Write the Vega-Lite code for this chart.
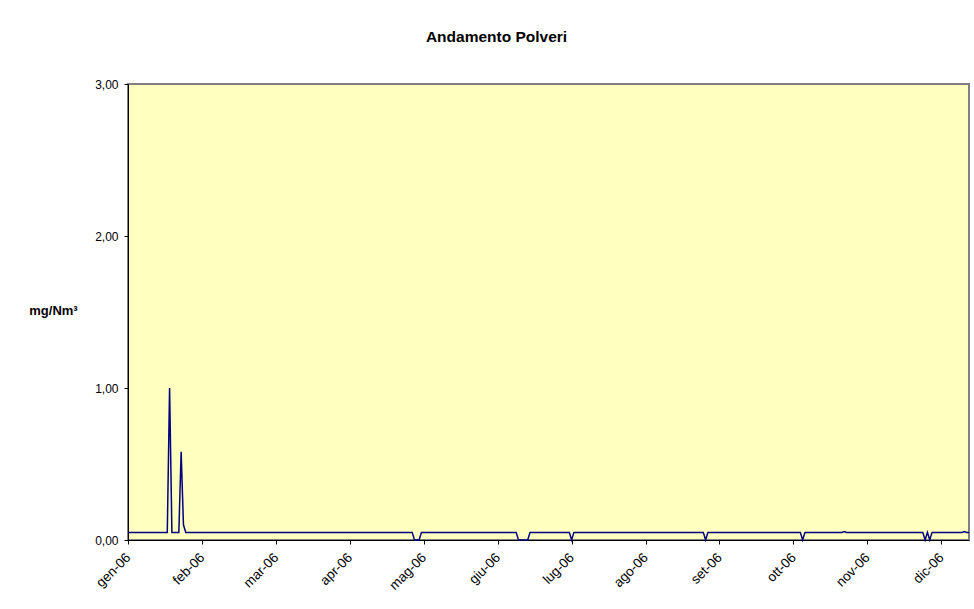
{
"$schema": "https://vega.github.io/schema/vega-lite/v6.json",
"width": 841,
"height": 456,
"autosize": {"type": "none"},
"padding": {"left": 128, "top": 84, "right": 5, "bottom": 69},
"background": "white",
"title": {"text": "Andamento Polveri", "font": "Liberation Sans", "fontSize": 15.5, "fontWeight": "bold", "color": "black", "anchor": "middle", "dx": -52, "offset": 33},
"data": {"values": [
{"data":"2006-01-01","polveri":0.05},{"data":"2006-01-02","polveri":0.05},{"data":"2006-01-03","polveri":0.05},{"data":"2006-01-04","polveri":0.05},{"data":"2006-01-05","polveri":0.05},{"data":"2006-01-06","polveri":0.05},{"data":"2006-01-07","polveri":0.05},{"data":"2006-01-08","polveri":0.05},{"data":"2006-01-09","polveri":0.05},{"data":"2006-01-10","polveri":0.05},{"data":"2006-01-11","polveri":0.05},{"data":"2006-01-12","polveri":0.05},{"data":"2006-01-13","polveri":0.05},{"data":"2006-01-14","polveri":0.05},{"data":"2006-01-15","polveri":0.05},{"data":"2006-01-16","polveri":0.05},{"data":"2006-01-17","polveri":0.05},{"data":"2006-01-18","polveri":0.05},{"data":"2006-01-19","polveri":1.0},{"data":"2006-01-20","polveri":0.05},{"data":"2006-01-21","polveri":0.05},{"data":"2006-01-22","polveri":0.05},{"data":"2006-01-23","polveri":0.05},{"data":"2006-01-24","polveri":0.58},{"data":"2006-01-25","polveri":0.1},{"data":"2006-01-26","polveri":0.05},{"data":"2006-01-27","polveri":0.05},{"data":"2006-01-28","polveri":0.05},{"data":"2006-01-29","polveri":0.05},{"data":"2006-01-30","polveri":0.05},{"data":"2006-01-31","polveri":0.05},
{"data":"2006-02-01","polveri":0.05},{"data":"2006-02-02","polveri":0.05},{"data":"2006-02-03","polveri":0.05},{"data":"2006-02-04","polveri":0.05},{"data":"2006-02-05","polveri":0.05},{"data":"2006-02-06","polveri":0.05},{"data":"2006-02-07","polveri":0.05},{"data":"2006-02-08","polveri":0.05},{"data":"2006-02-09","polveri":0.05},{"data":"2006-02-10","polveri":0.05},{"data":"2006-02-11","polveri":0.05},{"data":"2006-02-12","polveri":0.05},{"data":"2006-02-13","polveri":0.05},{"data":"2006-02-14","polveri":0.05},{"data":"2006-02-15","polveri":0.05},{"data":"2006-02-16","polveri":0.05},{"data":"2006-02-17","polveri":0.05},{"data":"2006-02-18","polveri":0.05},{"data":"2006-02-19","polveri":0.05},{"data":"2006-02-20","polveri":0.05},{"data":"2006-02-21","polveri":0.05},{"data":"2006-02-22","polveri":0.05},{"data":"2006-02-23","polveri":0.05},{"data":"2006-02-24","polveri":0.05},{"data":"2006-02-25","polveri":0.05},{"data":"2006-02-26","polveri":0.05},{"data":"2006-02-27","polveri":0.05},{"data":"2006-02-28","polveri":0.05},
{"data":"2006-03-01","polveri":0.05},{"data":"2006-03-02","polveri":0.05},{"data":"2006-03-03","polveri":0.05},{"data":"2006-03-04","polveri":0.05},{"data":"2006-03-05","polveri":0.05},{"data":"2006-03-06","polveri":0.05},{"data":"2006-03-07","polveri":0.05},{"data":"2006-03-08","polveri":0.05},{"data":"2006-03-09","polveri":0.05},{"data":"2006-03-10","polveri":0.05},{"data":"2006-03-11","polveri":0.05},{"data":"2006-03-12","polveri":0.05},{"data":"2006-03-13","polveri":0.05},{"data":"2006-03-14","polveri":0.05},{"data":"2006-03-15","polveri":0.05},{"data":"2006-03-16","polveri":0.05},{"data":"2006-03-17","polveri":0.05},{"data":"2006-03-18","polveri":0.05},{"data":"2006-03-19","polveri":0.05},{"data":"2006-03-20","polveri":0.05},{"data":"2006-03-21","polveri":0.05},{"data":"2006-03-22","polveri":0.05},{"data":"2006-03-23","polveri":0.05},{"data":"2006-03-24","polveri":0.05},{"data":"2006-03-25","polveri":0.05},{"data":"2006-03-26","polveri":0.05},{"data":"2006-03-27","polveri":0.05},{"data":"2006-03-28","polveri":0.05},{"data":"2006-03-29","polveri":0.05},{"data":"2006-03-30","polveri":0.05},{"data":"2006-03-31","polveri":0.05},
{"data":"2006-04-01","polveri":0.05},{"data":"2006-04-02","polveri":0.05},{"data":"2006-04-03","polveri":0.05},{"data":"2006-04-04","polveri":0.05},{"data":"2006-04-05","polveri":0.05},{"data":"2006-04-06","polveri":0.05},{"data":"2006-04-07","polveri":0.05},{"data":"2006-04-08","polveri":0.05},{"data":"2006-04-09","polveri":0.05},{"data":"2006-04-10","polveri":0.05},{"data":"2006-04-11","polveri":0.05},{"data":"2006-04-12","polveri":0.05},{"data":"2006-04-13","polveri":0.05},{"data":"2006-04-14","polveri":0.05},{"data":"2006-04-15","polveri":0.05},{"data":"2006-04-16","polveri":0.05},{"data":"2006-04-17","polveri":0.05},{"data":"2006-04-18","polveri":0.05},{"data":"2006-04-19","polveri":0.05},{"data":"2006-04-20","polveri":0.05},{"data":"2006-04-21","polveri":0.05},{"data":"2006-04-22","polveri":0.05},{"data":"2006-04-23","polveri":0.05},{"data":"2006-04-24","polveri":0.05},{"data":"2006-04-25","polveri":0.05},{"data":"2006-04-26","polveri":0.05},{"data":"2006-04-27","polveri":0.05},{"data":"2006-04-28","polveri":0.05},{"data":"2006-04-29","polveri":0.05},{"data":"2006-04-30","polveri":0.05},
{"data":"2006-05-01","polveri":0.05},{"data":"2006-05-02","polveri":0.05},{"data":"2006-05-03","polveri":0.05},{"data":"2006-05-04","polveri":0.05},{"data":"2006-05-05","polveri":0},{"data":"2006-05-06","polveri":0},{"data":"2006-05-07","polveri":0},{"data":"2006-05-08","polveri":0.05},{"data":"2006-05-09","polveri":0.05},{"data":"2006-05-10","polveri":0.05},{"data":"2006-05-11","polveri":0.05},{"data":"2006-05-12","polveri":0.05},{"data":"2006-05-13","polveri":0.05},{"data":"2006-05-14","polveri":0.05},{"data":"2006-05-15","polveri":0.05},{"data":"2006-05-16","polveri":0.05},{"data":"2006-05-17","polveri":0.05},{"data":"2006-05-18","polveri":0.05},{"data":"2006-05-19","polveri":0.05},{"data":"2006-05-20","polveri":0.05},{"data":"2006-05-21","polveri":0.05},{"data":"2006-05-22","polveri":0.05},{"data":"2006-05-23","polveri":0.05},{"data":"2006-05-24","polveri":0.05},{"data":"2006-05-25","polveri":0.05},{"data":"2006-05-26","polveri":0.05},{"data":"2006-05-27","polveri":0.05},{"data":"2006-05-28","polveri":0.05},{"data":"2006-05-29","polveri":0.05},{"data":"2006-05-30","polveri":0.05},{"data":"2006-05-31","polveri":0.05},
{"data":"2006-06-01","polveri":0.05},{"data":"2006-06-02","polveri":0.05},{"data":"2006-06-03","polveri":0.05},{"data":"2006-06-04","polveri":0.05},{"data":"2006-06-05","polveri":0.05},{"data":"2006-06-06","polveri":0.05},{"data":"2006-06-07","polveri":0.05},{"data":"2006-06-08","polveri":0.05},{"data":"2006-06-09","polveri":0.05},{"data":"2006-06-10","polveri":0.05},{"data":"2006-06-11","polveri":0.05},{"data":"2006-06-12","polveri":0.05},{"data":"2006-06-13","polveri":0.05},{"data":"2006-06-14","polveri":0.05},{"data":"2006-06-15","polveri":0.05},{"data":"2006-06-16","polveri":0.05},{"data":"2006-06-17","polveri":0.05},{"data":"2006-06-18","polveri":0.05},{"data":"2006-06-19","polveri":0},{"data":"2006-06-20","polveri":0},{"data":"2006-06-21","polveri":0},{"data":"2006-06-22","polveri":0},{"data":"2006-06-23","polveri":0},{"data":"2006-06-24","polveri":0.05},{"data":"2006-06-25","polveri":0.05},{"data":"2006-06-26","polveri":0.05},{"data":"2006-06-27","polveri":0.05},{"data":"2006-06-28","polveri":0.05},{"data":"2006-06-29","polveri":0.05},{"data":"2006-06-30","polveri":0.05},
{"data":"2006-07-01","polveri":0.05},{"data":"2006-07-02","polveri":0.05},{"data":"2006-07-03","polveri":0.05},{"data":"2006-07-04","polveri":0.05},{"data":"2006-07-05","polveri":0.05},{"data":"2006-07-06","polveri":0.05},{"data":"2006-07-07","polveri":0.05},{"data":"2006-07-08","polveri":0.05},{"data":"2006-07-09","polveri":0.05},{"data":"2006-07-10","polveri":0.05},{"data":"2006-07-11","polveri":0.05},{"data":"2006-07-12","polveri":0},{"data":"2006-07-13","polveri":0.05},{"data":"2006-07-14","polveri":0.05},{"data":"2006-07-15","polveri":0.05},{"data":"2006-07-16","polveri":0.05},{"data":"2006-07-17","polveri":0.05},{"data":"2006-07-18","polveri":0.05},{"data":"2006-07-19","polveri":0.05},{"data":"2006-07-20","polveri":0.05},{"data":"2006-07-21","polveri":0.05},{"data":"2006-07-22","polveri":0.05},{"data":"2006-07-23","polveri":0.05},{"data":"2006-07-24","polveri":0.05},{"data":"2006-07-25","polveri":0.05},{"data":"2006-07-26","polveri":0.05},{"data":"2006-07-27","polveri":0.05},{"data":"2006-07-28","polveri":0.05},{"data":"2006-07-29","polveri":0.05},{"data":"2006-07-30","polveri":0.05},{"data":"2006-07-31","polveri":0.05},
{"data":"2006-08-01","polveri":0.05},{"data":"2006-08-02","polveri":0.05},{"data":"2006-08-03","polveri":0.05},{"data":"2006-08-04","polveri":0.05},{"data":"2006-08-05","polveri":0.05},{"data":"2006-08-06","polveri":0.05},{"data":"2006-08-07","polveri":0.05},{"data":"2006-08-08","polveri":0.05},{"data":"2006-08-09","polveri":0.05},{"data":"2006-08-10","polveri":0.05},{"data":"2006-08-11","polveri":0.05},{"data":"2006-08-12","polveri":0.05},{"data":"2006-08-13","polveri":0.05},{"data":"2006-08-14","polveri":0.05},{"data":"2006-08-15","polveri":0.05},{"data":"2006-08-16","polveri":0.05},{"data":"2006-08-17","polveri":0.05},{"data":"2006-08-18","polveri":0.05},{"data":"2006-08-19","polveri":0.05},{"data":"2006-08-20","polveri":0.05},{"data":"2006-08-21","polveri":0.05},{"data":"2006-08-22","polveri":0.05},{"data":"2006-08-23","polveri":0.05},{"data":"2006-08-24","polveri":0.05},{"data":"2006-08-25","polveri":0.05},{"data":"2006-08-26","polveri":0.05},{"data":"2006-08-27","polveri":0.05},{"data":"2006-08-28","polveri":0.05},{"data":"2006-08-29","polveri":0.05},{"data":"2006-08-30","polveri":0.05},{"data":"2006-08-31","polveri":0.05},
{"data":"2006-09-01","polveri":0.05},{"data":"2006-09-02","polveri":0.05},{"data":"2006-09-03","polveri":0.05},{"data":"2006-09-04","polveri":0.05},{"data":"2006-09-05","polveri":0.05},{"data":"2006-09-06","polveri":0.05},{"data":"2006-09-07","polveri":0.05},{"data":"2006-09-08","polveri":0},{"data":"2006-09-09","polveri":0.05},{"data":"2006-09-10","polveri":0.05},{"data":"2006-09-11","polveri":0.05},{"data":"2006-09-12","polveri":0.05},{"data":"2006-09-13","polveri":0.05},{"data":"2006-09-14","polveri":0.05},{"data":"2006-09-15","polveri":0.05},{"data":"2006-09-16","polveri":0.05},{"data":"2006-09-17","polveri":0.05},{"data":"2006-09-18","polveri":0.05},{"data":"2006-09-19","polveri":0.05},{"data":"2006-09-20","polveri":0.05},{"data":"2006-09-21","polveri":0.05},{"data":"2006-09-22","polveri":0.05},{"data":"2006-09-23","polveri":0.05},{"data":"2006-09-24","polveri":0.05},{"data":"2006-09-25","polveri":0.05},{"data":"2006-09-26","polveri":0.05},{"data":"2006-09-27","polveri":0.05},{"data":"2006-09-28","polveri":0.05},{"data":"2006-09-29","polveri":0.05},{"data":"2006-09-30","polveri":0.05},
{"data":"2006-10-01","polveri":0.05},{"data":"2006-10-02","polveri":0.05},{"data":"2006-10-03","polveri":0.05},{"data":"2006-10-04","polveri":0.05},{"data":"2006-10-05","polveri":0.05},{"data":"2006-10-06","polveri":0.05},{"data":"2006-10-07","polveri":0.05},{"data":"2006-10-08","polveri":0.05},{"data":"2006-10-09","polveri":0.05},{"data":"2006-10-10","polveri":0.05},{"data":"2006-10-11","polveri":0.05},{"data":"2006-10-12","polveri":0.05},{"data":"2006-10-13","polveri":0.05},{"data":"2006-10-14","polveri":0.05},{"data":"2006-10-15","polveri":0.05},{"data":"2006-10-16","polveri":0.05},{"data":"2006-10-17","polveri":0.05},{"data":"2006-10-18","polveri":0.05},{"data":"2006-10-19","polveri":0.05},{"data":"2006-10-20","polveri":0},{"data":"2006-10-21","polveri":0.05},{"data":"2006-10-22","polveri":0.05},{"data":"2006-10-23","polveri":0.05},{"data":"2006-10-24","polveri":0.05},{"data":"2006-10-25","polveri":0.05},{"data":"2006-10-26","polveri":0.05},{"data":"2006-10-27","polveri":0.05},{"data":"2006-10-28","polveri":0.05},{"data":"2006-10-29","polveri":0.05},{"data":"2006-10-30","polveri":0.05},{"data":"2006-10-31","polveri":0.05},
{"data":"2006-11-01","polveri":0.05},{"data":"2006-11-02","polveri":0.05},{"data":"2006-11-03","polveri":0.05},{"data":"2006-11-04","polveri":0.05},{"data":"2006-11-05","polveri":0.05},{"data":"2006-11-06","polveri":0.05},{"data":"2006-11-07","polveri":0.055},{"data":"2006-11-08","polveri":0.05},{"data":"2006-11-09","polveri":0.05},{"data":"2006-11-10","polveri":0.05},{"data":"2006-11-11","polveri":0.05},{"data":"2006-11-12","polveri":0.05},{"data":"2006-11-13","polveri":0.05},{"data":"2006-11-14","polveri":0.05},{"data":"2006-11-15","polveri":0.05},{"data":"2006-11-16","polveri":0.05},{"data":"2006-11-17","polveri":0.05},{"data":"2006-11-18","polveri":0.05},{"data":"2006-11-19","polveri":0.05},{"data":"2006-11-20","polveri":0.05},{"data":"2006-11-21","polveri":0.05},{"data":"2006-11-22","polveri":0.05},{"data":"2006-11-23","polveri":0.05},{"data":"2006-11-24","polveri":0.05},{"data":"2006-11-25","polveri":0.05},{"data":"2006-11-26","polveri":0.05},{"data":"2006-11-27","polveri":0.05},{"data":"2006-11-28","polveri":0.05},{"data":"2006-11-29","polveri":0.05},{"data":"2006-11-30","polveri":0.05},
{"data":"2006-12-01","polveri":0.05},{"data":"2006-12-02","polveri":0.05},{"data":"2006-12-03","polveri":0.05},{"data":"2006-12-04","polveri":0.05},{"data":"2006-12-05","polveri":0.05},{"data":"2006-12-06","polveri":0.05},{"data":"2006-12-07","polveri":0.05},{"data":"2006-12-08","polveri":0.05},{"data":"2006-12-09","polveri":0.05},{"data":"2006-12-10","polveri":0.05},{"data":"2006-12-11","polveri":0.05},{"data":"2006-12-12","polveri":0},{"data":"2006-12-13","polveri":0.05},{"data":"2006-12-14","polveri":0},{"data":"2006-12-15","polveri":0.05},{"data":"2006-12-16","polveri":0.05},{"data":"2006-12-17","polveri":0.05},{"data":"2006-12-18","polveri":0.05},{"data":"2006-12-19","polveri":0.05},{"data":"2006-12-20","polveri":0.05},{"data":"2006-12-21","polveri":0.05},{"data":"2006-12-22","polveri":0.05},{"data":"2006-12-23","polveri":0.05},{"data":"2006-12-24","polveri":0.05},{"data":"2006-12-25","polveri":0.05},{"data":"2006-12-26","polveri":0.05},{"data":"2006-12-27","polveri":0.05},{"data":"2006-12-28","polveri":0.05},{"data":"2006-12-29","polveri":0.055},{"data":"2006-12-30","polveri":0.05},{"data":"2006-12-31","polveri":0.05}
]},
"mark": {"type": "line", "color": "#000080", "strokeWidth": 1.5, "interpolate": "linear"},
"encoding": {
  "x": {"field": "data", "type": "temporal",
    "scale": {"type": "utc", "domain": [{"year": 2006, "month": 1, "date": 1, "utc": true}, {"year": 2006, "month": 12, "date": 31, "utc": true}], "nice": false},
    "axis": {"title": null, "grid": false, "domainColor": "black", "domainWidth": 1, "tickColor": "black", "tickSize": 4,
      "values": [
        {"year": 2006, "month": 1, "date": 1, "utc": true},
        {"year": 2006, "month": 2, "date": 2, "utc": true},
        {"year": 2006, "month": 3, "date": 6, "utc": true},
        {"year": 2006, "month": 4, "date": 7, "utc": true},
        {"year": 2006, "month": 5, "date": 9, "utc": true},
        {"year": 2006, "month": 6, "date": 10, "utc": true},
        {"year": 2006, "month": 7, "date": 12, "utc": true},
        {"year": 2006, "month": 8, "date": 13, "utc": true},
        {"year": 2006, "month": 9, "date": 14, "utc": true},
        {"year": 2006, "month": 10, "date": 16, "utc": true},
        {"year": 2006, "month": 11, "date": 17, "utc": true},
        {"year": 2006, "month": 12, "date": 19, "utc": true}
      ],
      "labelExpr": "['gen','feb','mar','apr','mag','giu','lug','ago','set','ott','nov','dic'][utcmonth(datum.value)] + '-06'",
      "labelAngle": -45, "labelAlign": "right", "labelBaseline": "middle", "labelPadding": 11,
      "labelFont": "Liberation Sans", "labelFontSize": 13.5, "labelColor": "black", "labelOverlap": false, "labelFlush": false}
  },
  "y": {"field": "polveri", "type": "quantitative",
    "scale": {"domain": [0, 3], "nice": false, "zero": true},
    "axis": {"values": [0, 1, 2, 3], "grid": false, "domainColor": "black", "domainWidth": 1, "tickColor": "black", "tickSize": 4,
      "labelExpr": "replace(format(datum.value, '.2f'), '.', ',')",
      "labelFont": "Liberation Sans", "labelFontSize": 12, "labelColor": "black", "labelPadding": 6,
      "title": "mg/Nm³", "titleAngle": 0, "titleX": -75, "titleY": 230, "titleAlign": "center", "titleBaseline": "alphabetic",
      "titleFont": "Liberation Sans", "titleFontSize": 13, "titleFontWeight": "bold", "titleColor": "black"}
  }
},
"config": {"view": {"fill": "#FFFFC0", "stroke": "#808080", "strokeWidth": 2}}
}
